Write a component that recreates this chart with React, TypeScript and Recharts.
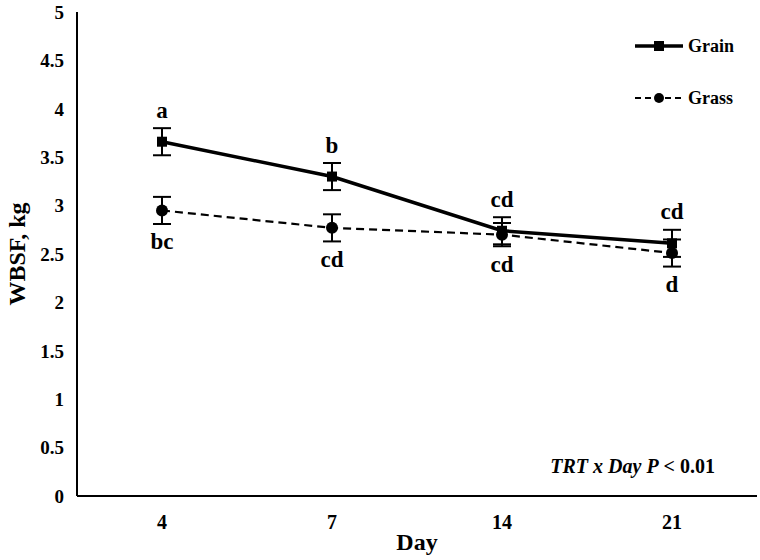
// @ts-nocheck
import { LineChart, Line, XAxis, YAxis, ErrorBar, LabelList, Customized } from "recharts";

const days = ["4", "7", "14", "21"];
const grain = [3.66, 3.3, 2.74, 2.61];
const grainSe = [0.14, 0.14, 0.14, 0.14];
const grass = [2.95, 2.77, 2.7, 2.51];
const grassSe = [0.14, 0.14, 0.12, 0.14];
const grainLetters = ["a", "b", "cd", "cd"];
const grassLetters = ["bc", "cd", "cd", "d"];
const yTicks = [0, 0.5, 1, 1.5, 2, 2.5, 3, 3.5, 4, 4.5, 5];

const W = 760;
const H = 560;
const xAxisH = 64;
const margin = { top: 12, right: 3, bottom: 0, left: 0 };
const yMax = 5;
const pxPerUnit = (H - margin.top - xAxisH) / yMax;
const font = "'Liberation Serif', 'Times New Roman', serif";

const data = days.map((d, i) => ({
  day: d,
  Grain: grain[i],
  grainSe: grainSe[i],
  Grass: grass[i],
  grassSe: grassSe[i],
}));

const letterLabel = (letters, se, above) => (props) => {
  const { x, y, index } = props;
  const off = se[index] * pxPerUnit + 18;
  return (
    <text
      x={x}
      y={above ? y - off : y + off}
      textAnchor="middle"
      dominantBaseline="central"
      fontFamily={font}
      fontWeight="bold"
      fontSize={23}
      fill="#000"
    >
      {letters[index]}
    </text>
  );
};

// legend drawn in svg, top right
function LegendBox() {
  const items = [
    { name: "Grain", dash: undefined, sw: 3.5, shape: "square", y: 46 },
    { name: "Grass", dash: "6 4", sw: 2, shape: "circle", y: 98 },
  ];
  return (
    <g>
      {items.map((it) => (
        <g key={it.name}>
          <line x1={635} y1={it.y} x2={683} y2={it.y} stroke="#000" strokeWidth={it.sw} strokeDasharray={it.dash} />
          {it.shape === "square" ? (
            <rect x={654} y={it.y - 5} width={10} height={10} fill="#000" />
          ) : (
            <circle cx={659} cy={it.y} r={5} fill="#000" />
          )}
          <text x={688} y={it.y} dominantBaseline="central" fontFamily={font} fontWeight="bold" fontSize={18} fill="#000">
            {it.name}
          </text>
        </g>
      ))}
    </g>
  );
}

function Note() {
  return (
    <text x={715} y={473} textAnchor="end" fontFamily={font} fontWeight="bold" fontSize={20} fill="#000">
      <tspan fontStyle="italic">TRT x Day P</tspan>
      <tspan> &lt; 0.01</tspan>
    </text>
  );
}

export default function App() {
  return (
    <div style={{ position: "absolute", left: 0, top: 0, background: "#fff" }}>
      <LineChart width={W} height={H} data={data} margin={margin}>
        <XAxis
          dataKey="day"
          height={xAxisH}
          padding={{ left: 85, right: 85 }}
          axisLine={{ stroke: "#000", strokeWidth: 2 }}
          tickLine={false}
          tickMargin={13}
          tick={{ fill: "#000", fontFamily: font, fontWeight: "bold", fontSize: 20 }}
          label={{
            value: "Day",
            position: "insideBottom",
            offset: 10,
            fill: "#000",
            fontFamily: font,
            fontWeight: "bold",
            fontSize: 24,
          }}
        />
        <YAxis
          width={77}
          domain={[0, yMax]}
          ticks={yTicks}
          interval={0}
          axisLine={{ stroke: "#000", strokeWidth: 2 }}
          tickLine={false}
          tickMargin={7}
          tick={{ fill: "#000", fontFamily: font, fontWeight: "bold", fontSize: 19 }}
          label={{
            value: "WBSF, kg",
            angle: -90,
            position: "insideLeft",
            offset: 16,
            style: { textAnchor: "middle" },
            fill: "#000",
            fontFamily: font,
            fontWeight: "bold",
            fontSize: 24,
          }}
        />
        <Line
          dataKey="Grain"
          stroke="#000"
          strokeWidth={3.5}
          isAnimationActive={false}
          dot={(p) => <rect key={p.index} x={p.cx - 5} y={p.cy - 5} width={10} height={10} fill="#000" />}
        >
          <ErrorBar dataKey="grainSe" width={9} stroke="#000" strokeWidth={2} />
          <LabelList dataKey="Grain" content={letterLabel(grainLetters, grainSe, true)} />
        </Line>
        <Line
          dataKey="Grass"
          stroke="#000"
          strokeWidth={2.2}
          strokeDasharray="8 5"
          isAnimationActive={false}
          dot={(p) => <circle key={p.index} cx={p.cx} cy={p.cy} r={6} fill="#000" />}
        >
          <ErrorBar dataKey="grassSe" width={9} stroke="#000" strokeWidth={2} />
          <LabelList dataKey="Grass" content={letterLabel(grassLetters, grassSe, false)} />
        </Line>
        <Customized component={LegendBox} />
        <Customized component={Note} />
      </LineChart>
    </div>
  );
}
